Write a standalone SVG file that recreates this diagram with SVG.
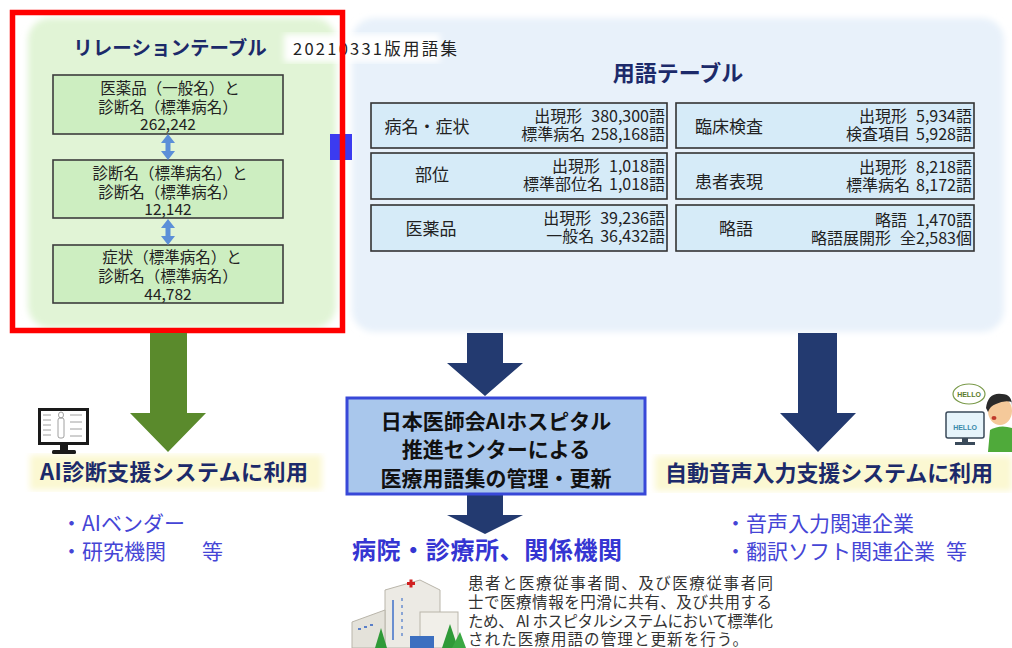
<svg xmlns="http://www.w3.org/2000/svg" width="1012" height="648" viewBox="0 0 1012 648">
  <style>
    .jp { font-family: "Noto Sans CJK JP", "Noto Sans", sans-serif; }
    .title { font-weight: 700; fill: #1c2a6a; }
    .relbox { fill: #cdeec1; stroke: #3c3c3c; stroke-width: 1.6; }
    .reltxt { font-size: 15.5px; fill: #222; text-anchor: middle; }
    .cell { fill: #d6ebf8; stroke: #333; stroke-width: 1.6; }
    .cname { font-size: 17px; fill: #222; text-anchor: middle; }
    .cnum { font-size: 16px; fill: #222; text-anchor: end; }
    .navy { fill: #233a70; }
    .band { fill: #fbf8d2; }
    .use { font-size: 22px; font-weight: 700; fill: #1c2a6a; }
    .bullet { font-size: 21px; fill: #4545d6; }
    .para { font-size: 15.5px; fill: #333; }
    .dbl { fill: #5b8fd8; }
  </style>
  <defs>
    <filter id="soft" x="-5%" y="-5%" width="110%" height="110%">
      <feGaussianBlur stdDeviation="3"/>
    </filter>
  </defs>

  <rect width="1012" height="648" fill="#ffffff"/>

  <!-- background panels -->
  <g id="panels">
    <rect x="28" y="18" width="308" height="310" rx="22" fill="#e1f4d6" filter="url(#soft)"/>
    <rect x="352" y="18" width="652" height="314" rx="22" fill="#e8f1fa" filter="url(#soft)"/>
    <rect x="284" y="34" width="156" height="28" fill="#ffffff" filter="url(#soft)"/>
  </g>

  <!-- relation table -->
  <g id="relation-table">
    <text class="jp title" x="170" y="55" font-size="19.5" text-anchor="middle">リレーションテーブル</text>
    <text class="jp" x="293" y="55" font-size="16.5" fill="#222" textLength="164">20210331版用語集</text>
  </g>
  <g id="rel-drug">
    <rect class="relbox" x="53" y="75" width="230" height="59"/>
    <text class="jp reltxt" x="170" y="94">医薬品（一般名）と</text>
    <text class="jp reltxt" x="168" y="113">診断名（標準病名）</text>
    <text class="jp reltxt" x="168" y="130">262,242</text>
  </g>
  <g id="rel-diag">
    <rect class="relbox" x="53" y="160" width="230" height="58"/>
    <text class="jp reltxt" x="170" y="179">診断名（標準病名）と</text>
    <text class="jp reltxt" x="168" y="198">診断名（標準病名）</text>
    <text class="jp reltxt" x="168" y="215">12,142</text>
  </g>
  <g id="rel-symptom">
    <rect class="relbox" x="53" y="245" width="230" height="58"/>
    <text class="jp reltxt" x="172" y="263">症状（標準病名）と</text>
    <text class="jp reltxt" x="168" y="282">診断名（標準病名）</text>
    <text class="jp reltxt" x="168" y="300">44,782</text>
  </g>

  <!-- term table -->
  <g id="term-table">
    <text class="jp title" x="678" y="81" font-size="22" text-anchor="middle">用語テーブル</text>
  </g>
  <g id="cell-disease">
    <rect class="cell" x="371" y="103" width="296" height="45"/>
    <text class="jp cname" x="427" y="133">病名・症状</text>
    <text class="jp cnum" x="665" y="122">出現形<tspan dx="9">380,300語</tspan></text>
    <text class="jp cnum" x="665" y="140">標準病名<tspan dx="6">258,168語</tspan></text>
  </g>
  <g id="cell-site">
    <rect class="cell" x="371" y="153" width="296" height="46"/>
    <text class="jp cname" x="432" y="181">部位</text>
    <text class="jp cnum" x="665" y="172">出現形<tspan dx="9">1,018語</tspan></text>
    <text class="jp cnum" x="665" y="190">標準部位名<tspan dx="6">1,018語</tspan></text>
  </g>
  <g id="cell-drug">
    <rect class="cell" x="371" y="205" width="296" height="46"/>
    <text class="jp cname" x="431" y="235">医薬品</text>
    <text class="jp cnum" x="665" y="224">出現形<tspan dx="9">39,236語</tspan></text>
    <text class="jp cnum" x="665" y="242">一般名<tspan dx="6">36,432語</tspan></text>
  </g>
  <g id="cell-lab">
    <rect class="cell" x="676" y="103" width="298" height="45"/>
    <text class="jp cname" x="729" y="133">臨床検査</text>
    <text class="jp cnum" x="972" y="122">出現形<tspan dx="9">5,934語</tspan></text>
    <text class="jp cnum" x="972" y="140">検査項目<tspan dx="6">5,928語</tspan></text>
  </g>
  <g id="cell-patient">
    <rect class="cell" x="676" y="153" width="298" height="46"/>
    <text class="jp cname" x="729" y="188">患者表現</text>
    <text class="jp cnum" x="972" y="173">出現形<tspan dx="9">8,218語</tspan></text>
    <text class="jp cnum" x="972" y="191">標準病名<tspan dx="6">8,172語</tspan></text>
  </g>
  <g id="cell-abbr">
    <rect class="cell" x="676" y="205" width="298" height="46"/>
    <text class="jp cname" x="736" y="235">略語</text>
    <text class="jp cnum" x="972" y="226">略語<tspan dx="9">1,470語</tspan></text>
    <text class="jp cnum" x="972" y="244">略語展開形<tspan dx="9">全2,583個</tspan></text>
  </g>

  <!-- small blue marker between panels -->
  <rect id="marker" x="330" y="134" width="22" height="26" fill="#3b3bf0"/>

  <!-- highlight frame -->
  <rect id="highlight" x="12.5" y="12.5" width="330" height="318" fill="none" stroke="#ff0000" stroke-width="5.5"/>

  <!-- connectors -->
  <g id="connectors">
    <polygon class="dbl" points="168,134 175,143 170.5,143 170.5,151 175,151 168,160 161,151 165.5,151 165.5,143 161,143"/>
    <polygon class="dbl" points="168,219 175,228 170.5,228 170.5,236 175,236 168,245 161,236 165.5,236 165.5,228 161,228"/>
    <polygon fill="#5a8a2c" points="150,333 187,333 187,413 206,413 168,452 130,413 150,413"/>
    <polygon class="navy" points="467,333 503,333 503,363 523,363 485,396 447,363 467,363"/>
    <polygon class="navy" points="467,494 503,494 503,515 523,515 485,534 447,515 467,515"/>
    <polygon class="navy" points="798,333 837,333 837,413 856,413 818,452 780,413 798,413"/>
  </g>

  <!-- AI diagnosis use -->
  <g id="ai-diagnosis">
    <rect class="band" x="30" y="455" width="292" height="35" filter="url(#soft)"/>
    <text class="jp use" x="40" y="480" textLength="268">AI診断支援システムに利用</text>
    <text class="jp bullet" x="61" y="531">・AIベンダー</text>
    <text class="jp bullet" x="61" y="559">・研究機関</text>
    <text class="jp bullet" x="202" y="559">等</text>
    <!-- monitor icon -->
    <rect x="38" y="408" width="51" height="37" fill="#1a1a1a"/>
    <rect x="41" y="411" width="45" height="31" fill="#ffffff"/>
    <g stroke="#888" stroke-width="0.8">
      <line x1="43" y1="415" x2="51" y2="415"/><line x1="43" y1="420" x2="51" y2="420"/>
      <line x1="43" y1="425" x2="51" y2="425"/><line x1="43" y1="430" x2="51" y2="430"/>
      <line x1="43" y1="435" x2="51" y2="435"/>
      <line x1="70" y1="415" x2="82" y2="415"/><line x1="70" y1="422" x2="82" y2="422"/>
      <line x1="70" y1="429" x2="82" y2="429"/><line x1="70" y1="436" x2="82" y2="436"/>
    </g>
    <ellipse cx="61" cy="415" rx="2.5" ry="3" fill="none" stroke="#888" stroke-width="0.8"/>
    <rect x="58" y="418" width="6" height="20" rx="2" fill="none" stroke="#888" stroke-width="0.8"/>
    <rect x="60" y="445" width="8" height="6" fill="#1a1a1a"/>
    <rect x="52" y="450" width="24" height="4" rx="1.5" fill="#1a1a1a"/>
  </g>

  <!-- management centre -->
  <g id="center">
    <rect x="347" y="398" width="298" height="96" fill="#a9c7ec" stroke="#3848d8" stroke-width="3"/>
    <text class="jp" x="496" y="429" font-size="21" font-weight="700" fill="#111" text-anchor="middle">日本医師会AIホスピタル</text>
    <text class="jp" x="496" y="457" font-size="21" font-weight="700" fill="#111" text-anchor="middle">推進センターによる</text>
    <text class="jp" x="496" y="486" font-size="21" font-weight="700" fill="#111" text-anchor="middle">医療用語集の管理・更新</text>
  </g>

  <!-- hospitals -->
  <g id="hospitals">
    <text class="jp" x="352" y="559" font-size="24" font-weight="700" fill="#3535d2" textLength="270">病院・診療所、関係機関</text>
    <text class="jp para" x="468" y="589" textLength="305">患者と医療従事者間、及び医療従事者同</text>
    <text class="jp para" x="468" y="608" textLength="304">士で医療情報を円滑に共有、及び共用する</text>
    <text class="jp para" x="468" y="627" textLength="305">ため、 AI ホスピタルシステムにおいて標準化</text>
    <text class="jp para" x="468" y="645" textLength="280">された医療用語の管理と更新を行う。</text>
    <!-- hospital illustration -->
    <polygon points="385,590 420,580 440,590 440,648 385,648" fill="#eceae4" stroke="#b9b5aa" stroke-width="1"/>
    <polygon points="352,622 385,610 385,648 352,648" fill="#e4e2da" stroke="#b9b5aa" stroke-width="1"/>
    <rect x="420" y="612" width="38" height="36" fill="#f1efe9" stroke="#b9b5aa" stroke-width="1"/>
    <line x1="393" y1="600" x2="393" y2="640" stroke="#6a8fd0" stroke-width="2"/>
    <line x1="402" y1="598" x2="402" y2="640" stroke="#6a8fd0" stroke-width="1.5" stroke-dasharray="3 4"/>
    <g fill="#d02020">
      <rect x="407" y="582" width="8" height="3"/>
      <rect x="409.5" y="579.5" width="3" height="8"/>
    </g>
    <rect x="410" y="636" width="24" height="12" fill="#3c6fc0"/>
    <polygon points="375,648 381,628 387,648" fill="#2f9a38"/>
    <polygon points="442,648 450,624 458,648" fill="#2f9a38"/>
    <polygon points="452,648 460,632 466,648" fill="#3aa843"/>
    <g fill="#5a7fc8">
      <rect x="358" y="628" width="3" height="2"/><rect x="364" y="626" width="3" height="2"/>
      <rect x="370" y="624" width="3" height="2"/>
    </g>
  </g>

  <!-- voice input use -->
  <g id="voice-input">
    <rect class="band" x="655" y="456" width="357" height="35" filter="url(#soft)"/>
    <text class="jp use" x="665" y="481" textLength="328">自動音声入力支援システムに利用</text>
    <text class="jp bullet" x="725" y="531">・音声入力関連企業</text>
    <text class="jp bullet" x="725" y="559">・翻訳ソフト関連企業</text>
    <text class="jp bullet" x="946" y="559">等</text>
    <!-- person with monitor -->
    <ellipse cx="969" cy="394" rx="16" ry="10" fill="#ffffff" stroke="#7a9a4a" stroke-width="1.2"/>
    <text x="969" y="397" font-family="Liberation Sans, sans-serif" font-size="7" font-weight="700" fill="#5a7a2a" text-anchor="middle">HELLO</text>
    <rect x="946" y="412" width="38" height="26" rx="2" fill="#e6f4fb" stroke="#3a4a5a" stroke-width="1.5"/>
    <text x="965" y="430" font-family="Liberation Sans, sans-serif" font-size="7" font-weight="700" fill="#3a8aaa" text-anchor="middle">HELLO</text>
    <rect x="962" y="438" width="6" height="4" fill="#3a4a5a"/>
    <rect x="955" y="442" width="20" height="3" fill="#3a4a5a"/>
    <path d="M990,430 Q1000,424 1012,428 L1012,452 L988,452 Z" fill="#4faa3a"/>
    <ellipse cx="1000" cy="411" rx="12" ry="14" fill="#f5c99a"/>
    <path d="M986,408 Q988,392 1002,394 Q1012,394 1012,406 L1012,402 Q1004,400 996,404 Q990,406 988,412 Z" fill="#2a2a2a"/>
    <ellipse cx="994" cy="418" rx="2.5" ry="2" fill="#c0392b"/>
  </g>
</svg>
